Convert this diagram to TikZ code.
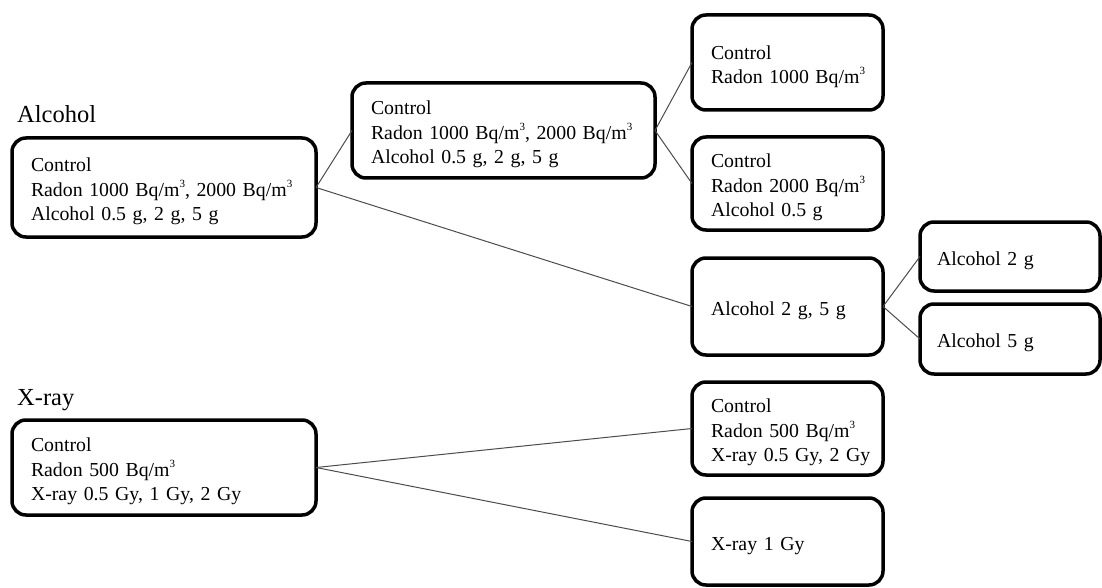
\documentclass[tikz,border=0pt]{standalone}
\usepackage{fontspec}
\setmainfont{Liberation Serif}
\newcommand\cubesup{\raisebox{0.45em}{\fontsize{11}{11}\selectfont 3}}
\begin{document}
\begin{tikzpicture}[x=1pt,y=-1pt,
  box/.style={draw=black, line width=3.5pt, rounded corners=14pt, inner xsep=19pt, inner ysep=0pt,
    outer sep=0pt, align=left, anchor=north west,
    execute at begin node={\rule{0pt}{22pt}},
    font=\fontsize{19.8}{24.5}\selectfont},
  grp/.style={anchor=base west, inner sep=0pt, font=\fontsize{24.5}{28}\selectfont},
  link/.style={draw=black!70, line width=1pt}]
\useasboundingbox (0,0) rectangle (1102,588);
\fill[white] (0,0) rectangle (1102,588);
% group labels
\node[grp] (lalc) at (17,123) {Alcohol};
\node[grp] (lxr) at (17,405) {X-ray};
% alcohol tree
\node[box, text width=266pt, minimum height=99pt] (L1) at (12,138)
  {Control\\\mbox{Radon 1000 Bq/m\cubesup, 2000 Bq/m\cubesup}\\\mbox{Alcohol 0.5 g, 2 g, 5 g}};
\node[box, text width=265pt, minimum height=95pt] (M) at (352,83)
  {Control\\\mbox{Radon 1000 Bq/m\cubesup, 2000 Bq/m\cubesup}\\\mbox{Alcohol 0.5 g, 2 g, 5 g}};
\node[box, text width=153pt, minimum height=95pt] (A) at (692,15)
  {Control\\\mbox{Radon 1000 Bq/m\cubesup}};
\node[box, text width=153pt, minimum height=93pt] (B) at (692,137)
  {Control\\\mbox{Radon 2000 Bq/m\cubesup}\\\mbox{Alcohol 0.5 g}};
\node[box, text width=153pt, minimum height=97pt] (C) at (692,258)
  {\mbox{Alcohol 2 g, 5 g}};
\node[box, inner xsep=17pt, text width=146pt, minimum height=69pt] (D) at (920,222)
  {\mbox{Alcohol 2 g}};
\node[box, inner xsep=17pt, text width=146pt, minimum height=70pt] (E) at (920,304)
  {\mbox{Alcohol 5 g}};
% x-ray tree
\node[box, text width=266pt, minimum height=95pt] (XL) at (12,420)
  {Control\\\mbox{Radon 500 Bq/m\cubesup}\\\mbox{X-ray 0.5 Gy, 1 Gy, 2 Gy}};
\node[box, text width=153pt, minimum height=93pt] (F) at (692,382)
  {Control\\\mbox{Radon 500 Bq/m\cubesup}\\\mbox{X-ray 0.5 Gy, 2 Gy}};
\node[box, text width=153pt, minimum height=87pt] (G) at (692,498)
  {\mbox{X-ray 1 Gy}};
% connectors
\draw[link] (L1.east) -- (M.west);
\draw[link] (L1.east) -- (C.west);
\draw[link] (M.east) -- (A.west);
\draw[link] (M.east) -- (B.west);
\draw[link] (C.east) -- (D.west);
\draw[link] (C.east) -- (E.west);
\draw[link] (XL.east) -- (F.west);
\draw[link] (XL.east) -- (G.west);
\end{tikzpicture}
\end{document}
